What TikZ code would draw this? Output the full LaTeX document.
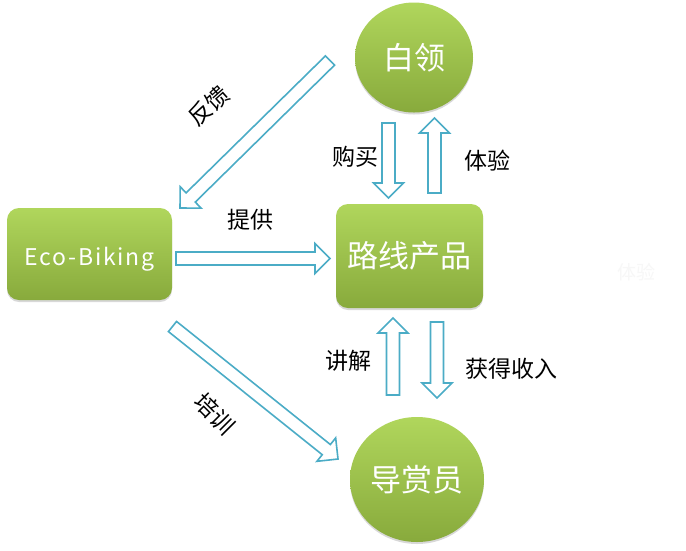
\documentclass[tikz,border=0pt]{standalone}
\usepackage{fontspec}
\setmainfont{Noto Sans CJK SC}
\newfontfamily\ecofont[LetterSpace=8]{Noto Sans CJK SC}
\usetikzlibrary{shapes.geometric,shapes.arrows,shadows,calc}
\definecolor{abl}{HTML}{4BACC6}
\definecolor{gtop}{HTML}{B0D65C}
\definecolor{gbot}{HTML}{88AA3C}
\tikzset{
  greennode/.style={top color=gtop, bottom color=gbot, draw=none, text=white,
    font=\fontsize{31}{31}\selectfont,
    drop shadow={opacity=0.3, shadow xshift=0pt, shadow yshift=-2pt}},
  boxnode/.style={greennode, rectangle, rounded corners=12pt, inner sep=0pt},
  circnode/.style={greennode, ellipse, inner sep=0pt},
  lbl/.style={font=\fontsize{23}{23}\selectfont, text=black},
  harrow/.style={single arrow, draw=abl, fill=white, line width=1.6pt,
    inner sep=0pt, outer sep=0pt, text height=5.7pt, text depth=5.7pt,
    single arrow head extend=8.5pt, single arrow tip angle=90},
}
\newcommand\harr[2]{\path let \p1=(#1), \p2=(#2),
  \n1={atan2(\y2-\y1,\x2-\x1)}, \n2={veclen(\x2-\x1,\y2-\y1)} in
  node[harrow, minimum height=\n2, rotate=\n1, anchor=tail] at (\p1) {};}
\begin{document}
\begin{tikzpicture}[x=1pt,y=-1pt]
\useasboundingbox[fill=white] (0,0) rectangle (686,550);
% nodes
\node[boxnode, minimum width=165pt, minimum height=92pt] (eco) at (89.5,254) {\ecofont\fontsize{23}{23}\selectfont\raisebox{-5pt}[\height][\depth]{Eco-Biking}};
\node[boxnode, minimum width=147pt, minimum height=104pt] (prod) at (409.5,256) {路线产品};
\node[circnode, minimum width=118pt, minimum height=110pt] (bl) at (414,57.5) {白领};
\node[circnode, minimum width=134pt, minimum height=125pt] (dsy) at (417,479.5) {导赏员};
% arrow end points
\coordinate (fbA) at (330,60.5);  \coordinate (fbB) at (180,208);
\coordinate (tgA) at (176,258.5); \coordinate (tgB) at (330,258.5);
\coordinate (gmA) at (388.5,123); \coordinate (gmB) at (388.5,198);
\coordinate (tyA) at (434.5,193); \coordinate (tyB) at (434.5,118);
\coordinate (jjA) at (393,395);   \coordinate (jjB) at (393,318);
\coordinate (hdA) at (437,322);   \coordinate (hdB) at (437,398);
\coordinate (pxA) at (172.5,326.5); \coordinate (pxB) at (338,459);
\harr{fbA}{fbB}
\harr{tgA}{tgB}
\harr{gmA}{gmB}
\harr{tyA}{tyB}
\harr{jjA}{jjB}
\harr{hdA}{hdB}
\harr{pxA}{pxB}
% labels
\node[lbl, rotate=42] (lfb) at (209,106) {反馈};
\node[lbl] (ltg) at (250,220) {提供};
\node[lbl] (lgm) at (355,157) {购买};
\node[lbl] (lty) at (487,161) {体验};
\node[lbl] (ljj) at (348,361) {讲解};
\node[lbl] (lhd) at (511,369) {获得收入};
\node[lbl, rotate=-45] (lpx) at (215,414) {培训};
\node[font=\fontsize{19}{19}\selectfont, text=black!3] (ghost) at (636,272) {体验};
\end{tikzpicture}
\end{document}
